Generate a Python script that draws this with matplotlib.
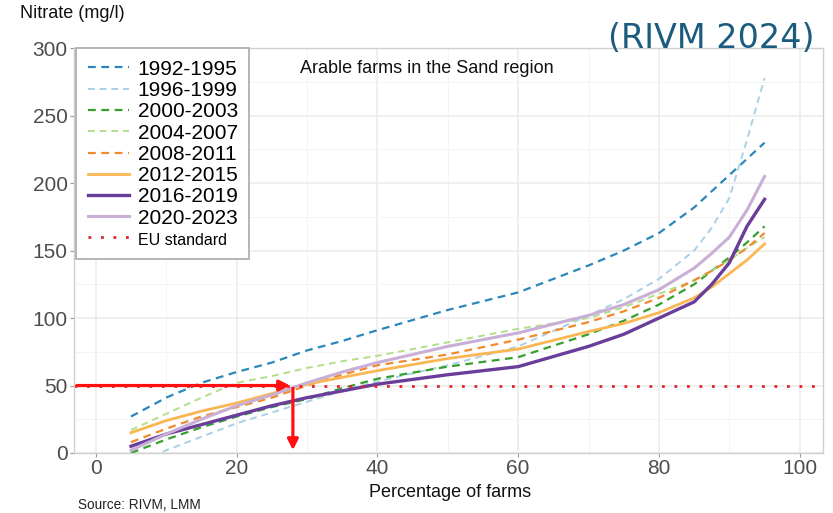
import matplotlib
matplotlib.use('Agg')
import matplotlib.pyplot as plt

plt.rcParams['font.family'] = ['Liberation Sans', 'DejaVu Sans']

# percentage of farms (x) and nitrate (mg/l) per period
pct = [5, 10, 15, 20, 25, 30, 35, 40, 50, 60, 70, 75, 80, 85, 87.5, 90, 92.5, 95]

n_1992 = [27, 41, 52, 60, 67, 76, 83, 91, 106, 119, 139, 150, 163, 182, 194, 206, 218, 230]
n_1996 = [-10, 2, 12, 22, 30, 38, 46, 53, 65, 79, 102, 114, 129, 150, 167, 189, 232, 278]
n_2000 = [0, 10, 19, 27, 34, 40, 48, 55, 64, 71, 88, 98, 110, 125, 135, 145, 156, 168]
n_2004 = [17, 29, 41, 52, 57, 63, 68, 72, 82, 92, 100, 108, 118, 128, 135, 143, 152, 160]
n_2008 = [8, 18, 27, 34, 41, 50, 58, 65, 73, 84, 97, 105, 115, 128, 135, 143, 152, 163]
n_2012 = [15, 24, 31, 37, 44, 51, 56, 61, 70, 77, 90, 96, 104, 115, 123, 133, 143, 155]
n_2016 = [5, 14, 21, 28, 35, 41, 46, 51, 58, 64, 79, 88, 100, 112, 125, 141, 168, 188]
n_2020 = [2, 14, 25, 35, 43, 52, 60, 67, 79, 89, 102, 110, 121, 137, 148, 160, 180, 205]

periods = ['1992-1995', '1996-1999', '2000-2003', '2004-2007',
           '2008-2011', '2012-2015', '2016-2019', '2020-2023']
series = [n_1992, n_1996, n_2000, n_2004, n_2008, n_2012, n_2016, n_2020]
colors = ['#2b87b9', '#a9d0e4', '#33a02c', '#b2df8a',
          '#f08a2c', '#fbb654', '#6a3d9a', '#c9aed6']
styles = ['--', '--', '--', '--', '--', '-', '-', '-']
widths = [1.6, 1.4, 1.6, 1.4, 1.6, 2.0, 2.4, 2.2]

eu_standard = 50
crossing = 28  # percentage of farms at the EU standard

fig = plt.figure(figsize=(8.33, 5.13), dpi=100)
ax = fig.add_axes([0.0888, 0.117, 0.8992, 0.789])

for y, c, ls, lw, lab in zip(series, colors, styles, widths, periods):
    line, = ax.plot(pct, y, color=c, linestyle=ls, linewidth=lw, label=lab)
    if ls == '--':
        line.set_dashes((3.5, 2.5))

ax.axhline(eu_standard, color='#e8202a', linestyle=(0, (1, 3.5)), linewidth=2,
           label='EU standard')

# red arrows: 50 mg/l -> curve -> percentage of farms
ax.annotate('', xy=(crossing, eu_standard), xytext=(-3.1, eu_standard),
            arrowprops=dict(arrowstyle='-|>', color='#ff1010', lw=2.3,
                            mutation_scale=16))
ax.annotate('', xy=(crossing, 0), xytext=(crossing, eu_standard),
            arrowprops=dict(arrowstyle='-|>', color='#ff1010', lw=2.3,
                            mutation_scale=16))

ax.set_xlim(-3.1, 103.3)
ax.set_ylim(0, 300)
ax.set_xticks([0, 20, 40, 60, 80, 100])
ax.set_yticks([0, 50, 100, 150, 200, 250, 300])
ax.set_xticks([10, 30, 50, 70, 90], minor=True)
ax.set_yticks([25, 75, 125, 175, 225, 275], minor=True)
ax.grid(which='major', color='#ebebeb', linewidth=1.1)
ax.grid(which='minor', color='#f4f4f4', linewidth=0.7)
ax.set_axisbelow(True)
ax.tick_params(which='major', labelsize=15, labelcolor='#4d4d4d',
               color='#999999', length=3, pad=1.5)
ax.tick_params(which='minor', length=0)
for s in ax.spines.values():
    s.set_color('#cfcfcf')
    s.set_linewidth(1)

ax.text(47, 285, 'Arable farms in the Sand region', ha='center', va='center',
        fontsize=13, color='#111111')

leg = ax.legend(loc='upper left', bbox_to_anchor=(0.003, 1.0), borderaxespad=0,
                fontsize=15, handlelength=2.0, labelspacing=0.11,
                handletextpad=0.4, borderpad=0.55, fancybox=False,
                framealpha=1, edgecolor='#b0b0b0')
leg.get_frame().set_linewidth(1.3)
leg.get_texts()[-1].set_fontsize(11.5)

fig.text(0.024, 0.973, 'Nitrate (mg/l)', ha='left', va='center', fontsize=13,
         color='#111111')
fig.text(0.978, 0.925, '(RIVM 2024)', ha='right', va='center', fontsize=24,
         color='#1b5c7e', family='DejaVu Sans')
fig.text(0.54, 0.039, 'Percentage of farms', ha='center', va='center',
         fontsize=13, color='#111111')
fig.text(0.094, 0.016, 'Source: RIVM, LMM', ha='left', va='center',
         fontsize=9.8, color='#222222')

fig.savefig('out.png', dpi=100)
